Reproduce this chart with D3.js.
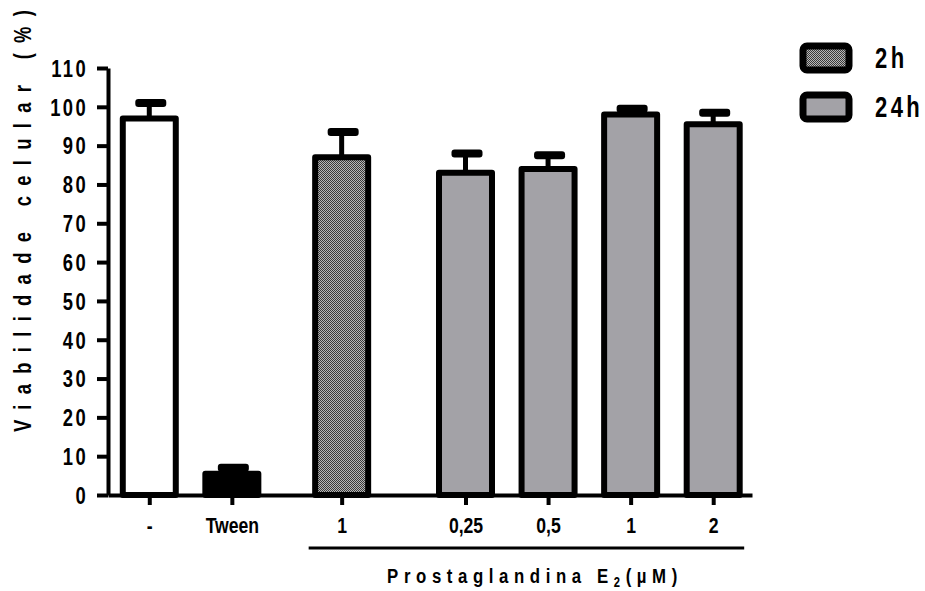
<!DOCTYPE html>
<html>
<head>
<meta charset="utf-8">
<script src="https://cdn.jsdelivr.net/npm/d3@7"></script>
<style>
  html, body { margin: 0; padding: 0; background: #fff; }
  svg { display: block; }
  text { font-family: "Liberation Sans", Arial, sans-serif; font-weight: bold; fill: #000; }
</style>
</head>
<body>
<svg id="chart" width="925" height="591"></svg>
<script>
// ---- data ----
const categories = ["-", "Tween", "1", "0,25", "0,5", "1", "2"];
const groups     = ["ctrl", "tween", "2h", "24h", "24h", "24h", "24h"];
const values     = [97, 5.5, 87, 83, 84, 98, 95.5];
const errors     = [4, 1.5, 6.5, 5, 3.5, 1.5, 3];
const yTicks     = [0, 10, 20, 30, 40, 50, 60, 70, 80, 90, 100, 110];
const legendLabels = ["2h", "24h"];
const yTitle = "Viabilidade celular (%)";
const xTitleMain = "Prostaglandina E";
const xTitleSub = "2";
const xTitleUnit = "(µM)";

// ---- layout ----
const NARROW = 0.8;
const svg = d3.select("#chart");
const defs = svg.append("defs");
const pat = defs.append("pattern").attr("id", "dots").attr("width", 2).attr("height", 2)
  .attr("patternUnits", "userSpaceOnUse");
pat.append("rect").attr("width", 2).attr("height", 2).attr("fill", "#b8b8b8");
pat.append("rect").attr("width", 1).attr("height", 1).attr("fill", "#3a3a3a");
pat.append("rect").attr("x", 1).attr("y", 1).attr("width", 1).attr("height", 1).attr("fill", "#3a3a3a");

const fills = { ctrl: "#ffffff", tween: "#000000", "2h": "url(#dots)", "24h": "#a3a2a7" };

// slot positions: index plus the gaps between groups
const gapAfter = { tween: 0.33, "2h": 0.5 };
let acc = 0;
const slots = categories.map((c, i) => {
  if (i > 0 && gapAfter[groups[i - 1]] && groups[i - 1] !== groups[i]) acc += gapAfter[groups[i - 1]];
  return i + acc;
});

const x = d3.scaleLinear().domain([-0.5, 7.3]).range([108, 752]);
const y = d3.scaleLinear().domain([0, 110]).range([495, 68]);

// y axis
const yAxis = svg.append("g").attr("transform", "translate(108,0)")
  .call(d3.axisLeft(y).tickValues(yTicks).tickSize(11).tickSizeOuter(0).tickPadding(12));
yAxis.select(".domain").attr("stroke-width", 4).attr("stroke", "#000");
yAxis.selectAll(".tick line").attr("stroke-width", 4).attr("stroke", "#000");
yAxis.selectAll(".tick text").style("font-size", "23px").style("letter-spacing", "3px")
  .attr("x", -20 / NARROW).attr("transform", `scale(${NARROW},1)`)
  .attr("dy", "0.36em");

// error bars (behind bars)
const eg = svg.append("g");
categories.forEach((c, i) => {
  const cx = x(slots[i]);
  eg.append("line").attr("x1", cx).attr("x2", cx)
    .attr("y1", y(values[i])).attr("y2", y(values[i] + errors[i]))
    .attr("stroke", "#000").attr("stroke-width", 5);
  eg.append("rect").attr("x", cx - 14).attr("width", 31)
    .attr("y", y(values[i] + errors[i]) - 4).attr("height", 8)
    .attr("rx", 3).attr("fill", "#000");
});

// bars
svg.append("g").selectAll("rect").data(categories).join("rect")
  .attr("x", (d, i) => x(slots[i]) - 26.5)
  .attr("width", 53)
  .attr("y", (d, i) => y(values[i]))
  .attr("height", (d, i) => y(0) - y(values[i]))
  .attr("fill", (d, i) => fills[groups[i]])
  .attr("stroke", "#000").attr("stroke-width", 6).attr("stroke-linejoin", "round");

// x axis
const xAxis = svg.append("g").attr("transform", "translate(0,495)")
  .call(d3.axisBottom(x).tickValues(slots).tickFormat((d, i) => categories[i])
    .tickSize(10).tickSizeOuter(0).tickPadding(12));
xAxis.select(".domain").attr("stroke-width", 4).attr("stroke", "#000");
xAxis.selectAll(".tick line").attr("stroke-width", 4).attr("stroke", "#000");
xAxis.selectAll(".tick text").style("font-size", "22px").attr("transform", `scale(${NARROW},1)`);

// group underline for prostaglandina
svg.append("line").attr("x1", x(slots[2]) - 33).attr("x2", x(slots[6]) + 31)
  .attr("y1", 548).attr("y2", 548).attr("stroke", "#000").attr("stroke-width", 3);

// x title
const xt = svg.append("g").attr("transform", `translate(535,583) scale(${NARROW},1)`)
  .append("text").attr("x", 0).attr("y", 0).attr("text-anchor", "middle")
  .style("font-size", "21px").style("letter-spacing", "7px");
xt.append("tspan").text(xTitleMain);
xt.append("tspan").attr("dy", 4).style("font-size", "14px").text(xTitleSub);
xt.append("tspan").attr("dy", -4).text(xTitleUnit);

// y title (no trailing spacing after the last glyph)
const yt = svg.append("g").attr("transform", `translate(31,432) rotate(-90) scale(${NARROW},1)`)
  .append("text").attr("text-anchor", "start").style("font-size", "23px");
yt.append("tspan").style("letter-spacing", "12.9px").text(yTitle.slice(0, -1));
yt.append("tspan").style("letter-spacing", "0px").text(yTitle.slice(-1));

// legend
const legFills = [fills["2h"], fills["24h"]];
legendLabels.forEach((l, i) => {
  const ly = 46 + i * 49;
  svg.append("rect").attr("x", 803).attr("y", ly).attr("width", 46).attr("height", 24)
    .attr("rx", 4).attr("fill", legFills[i]).attr("stroke", "#000").attr("stroke-width", 7)
    .attr("stroke-linejoin", "round");
  svg.append("g").attr("transform", `translate(875,${ly + 22}) scale(0.76,1)`)
    .append("text").style("font-size", "29px").style("letter-spacing", "4.5px").text(l);
});
</script>
</body>
</html>
